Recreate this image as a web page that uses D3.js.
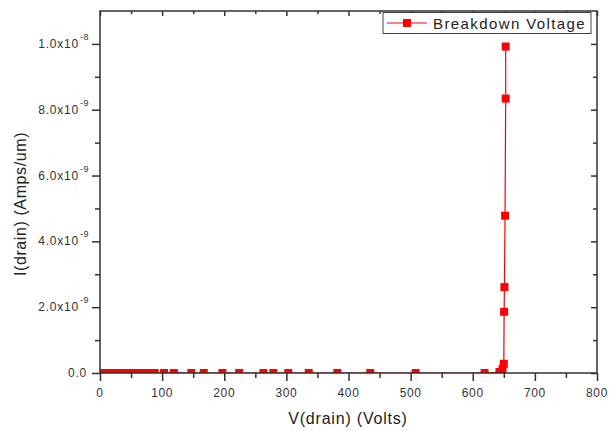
<!DOCTYPE html>
<html><head><meta charset="utf-8">
<script src="https://cdn.jsdelivr.net/npm/d3@7"></script>
<style>body{margin:0;background:#fff}svg{display:block;font-family:"Liberation Sans",Arial,sans-serif}</style>
</head><body>
<svg id="c" width="614" height="431"></svg>
<script>
const vDrain = [0,5,10,15,20,25,30,35,40,45,50,55,60,65,70,75,80,88,103,119,147,167,197,224,263,279,303,336,382,435,508,619,643,648,650,650.5,651,652,653,653];
const iDrain = [0,0,0,0,0,0,0,0,0,0,0,0,0,0,0,0,0,0,0,0,0,0,0,0,0,0,0,0,0,0,0,0,0.03e-9,0.12e-9,0.28e-9,1.86e-9,2.61e-9,4.78e-9,8.34e-9,9.92e-9];
const xTicks = [0,100,200,300,400,500,600,700,800];
const yTicks = [0,2e-9,4e-9,6e-9,8e-9,1e-8];
const yTickMant = ["0.0","2.0","4.0","6.0","8.0","1.0"];
const yTickExp = ["","-9","-9","-9","-9","-8"];
const seriesName = "Breakdown Voltage";

const svg = d3.select("#c");
const L=100,R=597,T=11,B=373;
const x = d3.scaleLinear().domain([0,800]).range([L,R]);
const y = d3.scaleLinear().domain([0,1.1e-8]).range([B,T]);
const axisCol="#333";

svg.append("defs").append("clipPath").attr("id","clip")
  .append("rect").attr("x",L).attr("y",T).attr("width",R-L).attr("height",B-T);

const g = svg.append("g").attr("clip-path","url(#clip)");
const data = vDrain.map((v,i)=>[v,iDrain[i]]);
g.append("path").datum(data).attr("fill","none").attr("stroke","#ff0000").attr("stroke-width",1.2)
  .attr("d",d3.line().x(d=>x(d[0])).y(d=>y(d[1])));
g.selectAll("rect.m").data(data).join("rect").attr("class","m")
  .attr("x",d=>x(d[0])-4).attr("y",d=>y(d[1])-4).attr("width",8).attr("height",8).attr("fill","#ff0000");

// bottom axis (outward ticks)
const xb = svg.append("g").attr("transform",`translate(0,${B})`)
  .call(d3.axisBottom(x).tickValues(d3.range(0,801,50)).tickSize(0).tickFormat(""));
xb.select(".domain").remove();
xb.selectAll(".tick").append("line").attr("stroke",axisCol).attr("stroke-width",1.5)
  .attr("y2",d=>d%100===0?8:5);
xTicks.forEach(v=>{
  svg.append("text").attr("x",x(v)).attr("y",397).attr("text-anchor","middle")
    .attr("font-size",12).attr("letter-spacing",0.6).attr("fill","#333").text(v);
});
// top mirror ticks (inward)
svg.append("g").attr("transform",`translate(0,${T})`)
  .call(d3.axisTop(x).tickValues(d3.range(0,801,50)).tickSize(0).tickFormat(""))
  .call(s=>s.select(".domain").remove())
  .selectAll(".tick").append("line").attr("stroke",axisCol).attr("stroke-width",1.5).attr("y2",d=>d%100===0?5:3);

// left axis (outward)
const yl = svg.append("g").attr("transform",`translate(${L},0)`)
  .call(d3.axisLeft(y).tickValues(d3.range(0,11).map(k=>k*1e-9)).tickSize(0).tickFormat(""));
yl.select(".domain").remove();
yl.selectAll(".tick").append("line").attr("stroke",axisCol).attr("stroke-width",1.5)
  .attr("x2",(d,i)=>i%2===0?-8:-5);
yTicks.forEach((v,i)=>{
  const t = svg.append("text").attr("x",yTickExp[i]?79:87).attr("y",y(v)+4).attr("text-anchor","end")
    .attr("font-size",12).attr("letter-spacing",0.8).attr("fill","#333");
  t.text(yTickExp[i]? yTickMant[i]+"x10" : yTickMant[i]);
  if(yTickExp[i]) svg.append("text").attr("x",80).attr("y",y(v)-4).attr("font-size",9).attr("letter-spacing",0.5).attr("fill","#333").text(yTickExp[i]);
});
// right mirror ticks (inward)
svg.append("g").attr("transform",`translate(${R},0)`)
  .call(d3.axisRight(y).tickValues(d3.range(0,11).map(k=>k*1e-9)).tickSize(0).tickFormat(""))
  .call(s=>s.select(".domain").remove())
  .selectAll(".tick").append("line").attr("stroke",axisCol).attr("stroke-width",1.5).attr("x2",(d,i)=>i%2===0?-6:-4);

// frame
svg.append("rect").attr("x",L).attr("y",T).attr("width",R-L).attr("height",B-T)
  .attr("fill","none").attr("stroke",axisCol).attr("stroke-width",1.5);

// titles
svg.append("text").attr("x",348).attr("y",424).attr("text-anchor","middle").attr("font-size",16).attr("letter-spacing",0.8).attr("fill","#222").text("V(drain) (Volts)");
svg.append("text").attr("transform","translate(26,204) rotate(-90)").attr("text-anchor","middle").attr("font-size",16).attr("letter-spacing",0.6).attr("fill","#222").text("I(drain) (Amps/um)");

// legend
const lg = svg.append("g");
lg.append("rect").attr("x",383).attr("y",12.5).attr("width",208).attr("height",21).attr("fill","#fff").attr("stroke","#444").attr("stroke-width",1);
lg.append("line").attr("x1",387).attr("x2",427).attr("y1",23).attr("y2",23).attr("stroke","#ff0000").attr("stroke-width",1.2);
lg.append("rect").attr("x",403).attr("y",19).attr("width",8).attr("height",8).attr("fill","#ff0000");
lg.append("text").attr("x",433).attr("y",29).attr("font-size",15).attr("letter-spacing",1.4).attr("fill","#222").text(seriesName);
</script>
</body></html>
